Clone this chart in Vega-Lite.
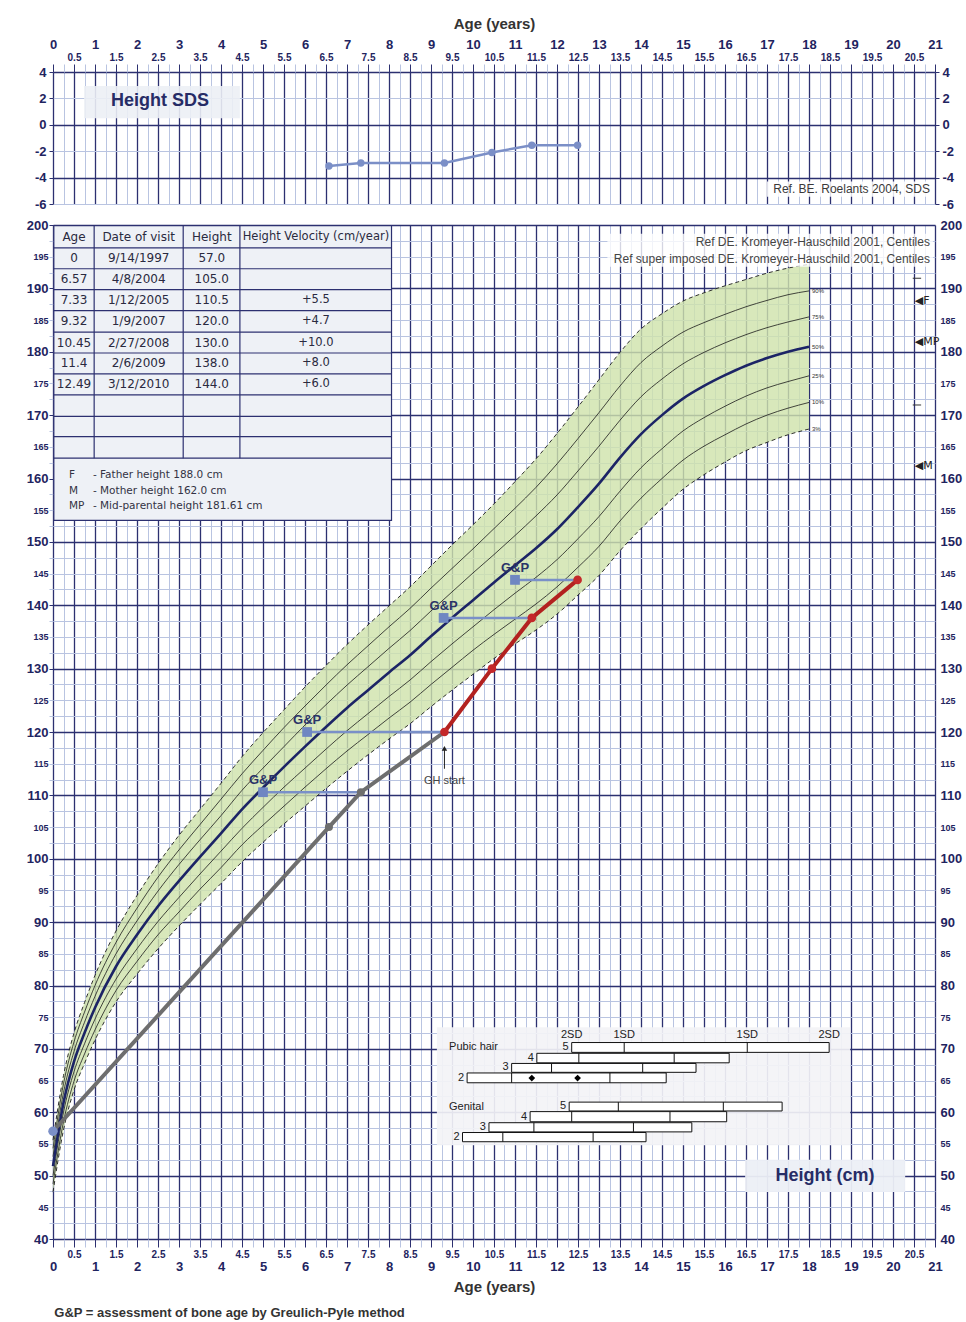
{
"$schema":"https://vega.github.io/schema/vega-lite/v6.json",
"background":"white",
"padding":{"left":26,"top":16,"right":4,"bottom":4},
"config":{"view":{"stroke":null},"font":"Liberation Sans"},
"spacing":8,
"title":{"text":"G&P = assessment of bone age by Greulich-Pyle method","orient":"bottom","anchor":"start","font":"Liberation Sans Narrow, Liberation Sans, sans-serif","fontSize":13,"fontWeight":"bold","color":"#333333","offset":13,"dx":28},
"datasets":{
"sds":[{"age":6.57,"sds":-3.12},{"age":7.33,"sds":-2.9},{"age":9.32,"sds":-2.9},{"age":10.45,"sds":-2.1},{"age":11.4,"sds":-1.55},{"age":12.49,"sds":-1.55}],
"cent":[
{"age":0,"P3":47.4,"P10":48.7,"P25":50.0,"P50":51.5,"P75":53.0,"P90":54.3,"P97":55.6},
{"age":0.25,"P3":57.2,"P10":58.5,"P25":60.0,"P50":61.5,"P75":63.1,"P90":64.5,"P97":65.8},
{"age":0.5,"P3":63.5,"P10":64.9,"P25":66.4,"P50":68.0,"P75":69.6,"P90":71.1,"P97":72.5},
{"age":0.75,"P3":67.7,"P10":69.2,"P25":70.8,"P50":72.5,"P75":74.2,"P90":75.8,"P97":77.3},
{"age":1,"P3":71.4,"P10":73.0,"P25":74.7,"P50":76.5,"P75":78.3,"P90":80.0,"P97":81.6},
{"age":1.5,"P3":77.4,"P10":79.2,"P25":81.0,"P50":83.0,"P75":85.0,"P90":86.8,"P97":88.6},
{"age":2,"P3":81.8,"P10":83.8,"P25":85.8,"P50":88.0,"P75":90.2,"P90":92.2,"P97":94.2},
{"age":2.5,"P3":85.8,"P10":88.0,"P25":90.1,"P50":92.5,"P75":94.9,"P90":97.1,"P97":99.2},
{"age":3,"P3":89.4,"P10":91.6,"P25":93.9,"P50":96.5,"P75":99.1,"P90":101.4,"P97":103.7},
{"age":3.5,"P3":92.8,"P10":95.2,"P25":97.6,"P50":100.3,"P75":103.0,"P90":105.4,"P97":107.8},
{"age":4,"P3":96.1,"P10":98.6,"P25":101.2,"P50":104.0,"P75":106.8,"P90":109.4,"P97":111.9},
{"age":4.5,"P3":99.5,"P10":102.2,"P25":104.8,"P50":107.8,"P75":110.8,"P90":113.4,"P97":116.1},
{"age":5,"P3":102.6,"P10":105.3,"P25":108.1,"P50":111.2,"P75":114.3,"P90":117.1,"P97":119.9},
{"age":5.5,"P3":105.5,"P10":108.3,"P25":111.3,"P50":114.5,"P75":117.7,"P90":120.7,"P97":123.5},
{"age":6,"P3":108.3,"P10":111.3,"P25":114.3,"P50":117.7,"P75":121.1,"P90":124.1,"P97":127.1},
{"age":6.5,"P3":111.1,"P10":114.2,"P25":117.3,"P50":120.8,"P75":124.3,"P90":127.4,"P97":130.5},
{"age":7,"P3":113.8,"P10":117.0,"P25":120.2,"P50":123.8,"P75":127.4,"P90":130.6,"P97":133.8},
{"age":7.5,"P3":116.4,"P10":119.6,"P25":122.9,"P50":126.6,"P75":130.3,"P90":133.6,"P97":136.9},
{"age":8,"P3":118.9,"P10":122.2,"P25":125.6,"P50":129.4,"P75":133.2,"P90":136.6,"P97":139.9},
{"age":8.5,"P3":121.3,"P10":124.7,"P25":128.2,"P50":132.1,"P75":136.0,"P90":139.5,"P97":142.9},
{"age":9,"P3":124.0,"P10":127.5,"P25":131.1,"P50":135.1,"P75":139.1,"P90":142.7,"P97":146.2},
{"age":9.5,"P3":126.6,"P10":130.2,"P25":133.9,"P50":138.0,"P75":142.1,"P90":145.8,"P97":149.5},
{"age":10,"P3":129.1,"P10":132.9,"P25":136.6,"P50":140.8,"P75":145.1,"P90":148.9,"P97":152.7},
{"age":10.5,"P3":131.6,"P10":135.4,"P25":139.3,"P50":143.6,"P75":148.0,"P90":152.1,"P97":156.0},
{"age":11,"P3":133.9,"P10":137.8,"P25":141.9,"P50":146.3,"P75":151.0,"P90":155.3,"P97":159.5},
{"age":11.5,"P3":136.1,"P10":140.2,"P25":144.4,"P50":149.0,"P75":154.1,"P90":158.6,"P97":163.1},
{"age":12,"P3":138.6,"P10":142.9,"P25":147.2,"P50":152.0,"P75":157.4,"P90":162.3,"P97":167.1},
{"age":12.5,"P3":141.6,"P10":146.0,"P25":150.5,"P50":155.5,"P75":161.2,"P90":166.3,"P97":171.3},
{"age":13,"P3":144.7,"P10":149.3,"P25":154.0,"P50":159.2,"P75":165.1,"P90":170.4,"P97":175.6},
{"age":13.5,"P3":148.6,"P10":153.3,"P25":158.0,"P50":163.3,"P75":169.2,"P90":174.6,"P97":179.9},
{"age":14,"P3":152.1,"P10":156.9,"P25":161.7,"P50":167.0,"P75":172.9,"P90":178.3,"P97":183.6},
{"age":14.5,"P3":155.3,"P10":160.0,"P25":164.7,"P50":170.0,"P75":175.7,"P90":180.9,"P97":186.0},
{"age":15,"P3":158.3,"P10":162.9,"P25":167.5,"P50":172.6,"P75":178.1,"P90":183.1,"P97":188.0},
{"age":15.5,"P3":160.6,"P10":165.1,"P25":169.6,"P50":174.6,"P75":179.9,"P90":184.6,"P97":189.3},
{"age":16,"P3":162.6,"P10":166.9,"P25":171.4,"P50":176.3,"P75":181.4,"P90":185.9,"P97":190.4},
{"age":16.5,"P3":164.4,"P10":168.6,"P25":173.0,"P50":177.8,"P75":182.7,"P90":187.1,"P97":191.4},
{"age":17,"P3":165.7,"P10":170.0,"P25":174.3,"P50":179.0,"P75":183.8,"P90":188.1,"P97":192.4},
{"age":17.5,"P3":166.9,"P10":171.1,"P25":175.3,"P50":180.0,"P75":184.7,"P90":189.0,"P97":193.2},
{"age":18,"P3":167.8,"P10":172.0,"P25":176.2,"P50":180.8,"P75":185.5,"P90":189.6,"P97":193.8}
],
"visits":[{"age":0,"h":57,"ph":"pre"},{"age":6.57,"h":105,"ph":"pre"},{"age":7.33,"h":110.5,"ph":"pre"},{"age":9.32,"h":120,"ph":"pre"},{"age":9.32,"h":120,"ph":"gh"},{"age":10.45,"h":130,"ph":"gh"},{"age":11.4,"h":138,"ph":"gh"},{"age":12.49,"h":144,"ph":"gh"}],
"bone":[{"age":7.33,"bone":5.0,"h":110.5,"label":"G&P"},{"age":9.32,"bone":6.05,"h":120,"label":"G&P"},{"age":11.4,"bone":9.3,"h":138,"label":"G&P"},{"age":12.49,"bone":11.0,"h":144,"label":"G&P"}],
"table":[{"y":198.15,"a":"Age","d":"Date of visit","ht":"Height","v":"Height Velocity (cm/year)"},{"y":194.75,"a":"0","d":"9/14/1997","ht":"57.0","v":""},{"y":191.45,"a":"6.57","d":"4/8/2004","ht":"105.0","v":""},{"y":188.15,"a":"7.33","d":"1/12/2005","ht":"110.5","v":"+5.5"},{"y":184.8,"a":"9.32","d":"1/9/2007","ht":"120.0","v":"+4.7"},{"y":181.45,"a":"10.45","d":"2/27/2008","ht":"130.0","v":"+10.0"},{"y":178.15,"a":"11.4","d":"2/6/2009","ht":"138.0","v":"+8.0"},{"y":174.85,"a":"12.49","d":"3/12/2010","ht":"144.0","v":"+6.0"}],
"notes":[{"y":160.5,"k":"F","t":"- Father height 188.0 cm"},{"y":158.1,"k":"M","t":"- Mother height 162.0 cm"},{"y":155.6,"k":"MP","t":"- Mid-parental height 181.61 cm"}],
"tanner":[{"g":"ph","s":"5","lo":12.35,"hi":18.48,"b":69.45,"t":71.0,"d1":13.6,"d2":16.53},{"g":"ph","s":"4","lo":11.52,"hi":16.1,"b":67.8,"t":69.3,"d1":12.52,"d2":14.79},{"g":"ph","s":"3","lo":10.92,"hi":15.31,"b":66.3,"t":67.7,"d1":11.87,"d2":14.04},{"g":"ph","s":"2","lo":9.86,"hi":14.6,"b":64.65,"t":66.2,"d1":10.92,"d2":13.26},{"g":"gen","s":"5","lo":12.29,"hi":17.36,"b":60.2,"t":61.6,"d1":13.46,"d2":15.96},{"g":"gen","s":"4","lo":11.36,"hi":16.04,"b":58.5,"t":60.1,"d1":12.35,"d2":14.69},{"g":"gen","s":"3","lo":10.38,"hi":15.21,"b":56.9,"t":58.35,"d1":11.45,"d2":13.82},{"g":"gen","s":"2","lo":9.75,"hi":14.12,"b":55.35,"t":56.8,"d1":10.71,"d2":12.86}]
},
"vconcat":[
{"width":882,"height":132,
"resolve":{"axis":{"x":"independent","y":"independent"}},
"layer":[
{"data":{"name":"sds"},"mark":{"type":"line","color":"#7b8fc7","strokeWidth":2.5},
"encoding":{
"x":{"field":"age","type":"quantitative","scale":{"domain":[0,21],"nice":false,"zero":false},
"axis":{"orient":"top","title":null,"labels":false,
"values":[0,0.25,0.5,0.75,1,1.25,1.5,1.75,2,2.25,2.5,2.75,3,3.25,3.5,3.75,4,4.25,4.5,4.75,5,5.25,5.5,5.75,6,6.25,6.5,6.75,7,7.25,7.5,7.75,8,8.25,8.5,8.75,9,9.25,9.5,9.75,10,10.25,10.5,10.75,11,11.25,11.5,11.75,12,12.25,12.5,12.75,13,13.25,13.5,13.75,14,14.25,14.5,14.75,15,15.25,15.5,15.75,16,16.25,16.5,16.75,17,17.25,17.5,17.75,18,18.25,18.5,18.75,19,19.25,19.5,19.75,20,20.25,20.5,20.75,21],
"grid":true,"gridColor":{"condition":{"test":"datum.value % 0.5 === 0","value":"#2c3070"},"value":"#b9c4e1"},
"gridWidth":{"condition":{"test":"datum.value % 0.5 === 0","value":1.3},"value":1},
"ticks":true,"tickSize":8,"tickColor":{"condition":{"test":"datum.value % 0.5 === 0","value":"#2c3070"},"value":"#b9c4e1"},"domain":false}},
"y":{"field":"sds","type":"quantitative","scale":{"domain":[-6,4],"nice":false,"zero":false},
"axis":{"orient":"left","title":null,"values":[-6,-4,-2,0,2,4],"labelExpr":"replace(datum.label, '−', '-')","labelFont":"Liberation Sans Narrow, Liberation Sans, sans-serif","labelFontWeight":"bold","labelFontSize":13,"labelColor":"#1f2460","labelPadding":3,"tickSize":4,"tickColor":"#2c3070","labelOverlap":false,"labelBound":false,"labelFlush":false,
"grid":true,"gridColor":{"condition":{"test":"datum.value % 4 === 0","value":"#2c3070"},"value":"#b9c4e1"},"gridWidth":{"condition":{"test":"datum.value % 4 === 0","value":1.3},"value":1},"domain":false}}}},
{"data":{"name":"sds"},"mark":{"type":"circle","color":"#7b8fc7","size":55,"opacity":1},
"encoding":{
"x":{"field":"age","type":"quantitative","axis":{"orient":"top","title":"Age (years)","titleFont":"Liberation Sans Narrow, Liberation Sans, sans-serif","titleFontSize":15,"titleFontWeight":"bold","titleColor":"#333333","titlePadding":7,
"values":[0,1,2,3,4,5,6,7,8,9,10,11,12,13,14,15,16,17,18,19,20,21],"format":"d",
"labelFont":"Liberation Sans Narrow, Liberation Sans, sans-serif","labelFontWeight":"bold","labelFontSize":13,"labelColor":"#1f2460","labelPadding":21,
"labelOverlap":false,"labelFlush":false,"labelBound":false,"ticks":false,"tickSize":0,"grid":false,"domain":false}},
"y":{"field":"sds","type":"quantitative","axis":{"orient":"right","title":null,"values":[-6,-4,-2,0,2,4],"labelExpr":"replace(datum.label, '−', '-')","labelFont":"Liberation Sans Narrow, Liberation Sans, sans-serif","labelFontWeight":"bold","labelFontSize":13,"labelColor":"#1f2460","labelPadding":3,"tickSize":4,"tickColor":"#2c3070","labelOverlap":false,"labelBound":false,"labelFlush":false,"grid":false,"domain":false}}}},
{"data":{"values":[{"label":"Height SDS"}]},"mark":{"type":"rect","fill":"#eceff5","opacity":0.9},
"encoding":{"x":{"datum":0.74,"type":"quantitative","axis":{"orient":"top","title":null,
"values":[0.5,1.5,2.5,3.5,4.5,5.5,6.5,7.5,8.5,9.5,10.5,11.5,12.5,13.5,14.5,15.5,16.5,17.5,18.5,19.5,20.5],"format":".1f",
"labelFont":"Liberation Sans Narrow, Liberation Sans, sans-serif","labelFontWeight":"bold","labelFontSize":10,"labelColor":"#1f2460","labelPadding":10,
"labelOverlap":false,"labelFlush":false,"labelBound":false,"ticks":false,"tickSize":0,"grid":false,"domain":false}},"x2":{"datum":4.45},"y":{"datum":2.94,"type":"quantitative","axis":null},"y2":{"datum":0.5}}},
{"data":{"values":[{"label":"Height SDS"}]},"mark":{"type":"text","fontSize":18,"fontWeight":"bold","color":"#262c66","align":"center","baseline":"middle"},
"encoding":{"x":{"datum":2.55,"type":"quantitative","axis":null},"y":{"datum":1.8,"type":"quantitative","axis":null},"text":{"field":"label"}}},
{"data":{"values":[{"label":"Ref. BE. Roelants 2004, SDS"}]},"mark":{"type":"rect","fill":"white","opacity":0.85},
"encoding":{"x":{"datum":17.0,"type":"quantitative","axis":null},"x2":{"datum":20.95},"y":{"datum":-4.3,"type":"quantitative","axis":null},"y2":{"datum":-5.45}}},
{"data":{"values":[{"label":"Ref. BE. Roelants 2004, SDS"}]},"mark":{"type":"text","fontSize":12,"color":"#3a3a3a","align":"right","baseline":"middle"},
"encoding":{"x":{"datum":20.88,"type":"quantitative","axis":null},"y":{"datum":-4.86,"type":"quantitative","axis":null},"text":{"field":"label"}}}
]},
{"width":882,"height":1014,
"resolve":{"axis":{"x":"independent","y":"independent"}},
"layer":[
{"data":{"name":"cent"},"mark":{"type":"area","color":"#d0e3ac","opacity":0.82,"interpolate":"monotone"},
"encoding":{
"x":{"field":"age","type":"quantitative","scale":{"domain":[0,21],"nice":false,"zero":false},
"axis":{"orient":"bottom","title":null,"labels":false,
"values":[0,0.25,0.5,0.75,1,1.25,1.5,1.75,2,2.25,2.5,2.75,3,3.25,3.5,3.75,4,4.25,4.5,4.75,5,5.25,5.5,5.75,6,6.25,6.5,6.75,7,7.25,7.5,7.75,8,8.25,8.5,8.75,9,9.25,9.5,9.75,10,10.25,10.5,10.75,11,11.25,11.5,11.75,12,12.25,12.5,12.75,13,13.25,13.5,13.75,14,14.25,14.5,14.75,15,15.25,15.5,15.75,16,16.25,16.5,16.75,17,17.25,17.5,17.75,18,18.25,18.5,18.75,19,19.25,19.5,19.75,20,20.25,20.5,20.75,21],
"grid":true,"gridColor":{"condition":{"test":"datum.value % 0.5 === 0","value":"#2c3070"},"value":"#b9c4e1"},
"gridWidth":{"condition":{"test":"datum.value % 0.5 === 0","value":1.3},"value":1},
"ticks":true,"tickSize":8,"tickColor":{"condition":{"test":"datum.value % 0.5 === 0","value":"#2c3070"},"value":"#b9c4e1"},"domain":false}},
"y":{"field":"P3","type":"quantitative","scale":{"domain":[40,200],"nice":false,"zero":false},
"axis":{"orient":"left","title":null,"labels":false,
"values":[40,42.5,45,47.5,50,52.5,55,57.5,60,62.5,65,67.5,70,72.5,75,77.5,80,82.5,85,87.5,90,92.5,95,97.5,100,102.5,105,107.5,110,112.5,115,117.5,120,122.5,125,127.5,130,132.5,135,137.5,140,142.5,145,147.5,150,152.5,155,157.5,160,162.5,165,167.5,170,172.5,175,177.5,180,182.5,185,187.5,190,192.5,195,197.5,200],
"ticks":true,"tickSize":4,"tickColor":{"condition":{"test":"datum.value % 10 === 0","value":"#2c3070"},"value":"#b9c4e1"},
"grid":true,"gridColor":{"condition":{"test":"datum.value % 10 === 0","value":"#2c3070"},"value":"#b9c4e1"},
"gridWidth":{"condition":{"test":"datum.value % 10 === 0","value":1.3},"value":1},"domain":false}},
"y2":{"field":"P97"}}},
{"data":{"name":"cent"},"transform":[{"fold":["P10","P25","P75","P90"],"as":["c","h"]}],
"mark":{"type":"line","color":"#1b1b1b","strokeWidth":0.8,"interpolate":"monotone"},
"encoding":{
"x":{"field":"age","type":"quantitative","axis":{"orient":"bottom","title":"Age (years)","titleFont":"Liberation Sans Narrow, Liberation Sans, sans-serif","titleFontSize":15,"titleFontWeight":"bold","titleColor":"#333333","titlePadding":6,
"values":[0,1,2,3,4,5,6,7,8,9,10,11,12,13,14,15,16,17,18,19,20,21],"format":"d",
"labelFont":"Liberation Sans Narrow, Liberation Sans, sans-serif","labelFontWeight":"bold","labelFontSize":13,"labelColor":"#1f2460","labelPadding":21,
"labelOverlap":false,"labelFlush":false,"labelBound":false,"ticks":false,"tickSize":0,"grid":false,"domain":false}},
"y":{"field":"h","type":"quantitative","axis":{"orient":"left","title":null,"values":[40,50,60,70,80,90,100,110,120,130,140,150,160,170,180,190,200],"format":"d",
"labelFont":"Liberation Sans Narrow, Liberation Sans, sans-serif","labelFontWeight":"bold","labelFontSize":13,"labelColor":"#1f2460","labelPadding":5,
"labelOverlap":false,"labelFlush":false,"labelBound":false,"ticks":false,"tickSize":0,"grid":false,"domain":false}},
"detail":{"field":"c"}}},
{"data":{"name":"cent"},"transform":[{"fold":["P3","P97"],"as":["c","h"]}],
"mark":{"type":"line","color":"#1b1b1b","strokeWidth":0.9,"strokeDash":[4,3],"interpolate":"monotone"},
"encoding":{
"x":{"field":"age","type":"quantitative","axis":{"orient":"bottom","title":null,
"values":[0.5,1.5,2.5,3.5,4.5,5.5,6.5,7.5,8.5,9.5,10.5,11.5,12.5,13.5,14.5,15.5,16.5,17.5,18.5,19.5,20.5],"format":".1f",
"labelFont":"Liberation Sans Narrow, Liberation Sans, sans-serif","labelFontWeight":"bold","labelFontSize":10,"labelColor":"#1f2460","labelPadding":10,
"labelOverlap":false,"labelFlush":false,"labelBound":false,"ticks":false,"tickSize":0,"grid":false,"domain":false}},
"y":{"field":"h","type":"quantitative","axis":{"orient":"left","title":null,"values":[45,55,65,75,85,95,105,115,125,135,145,155,165,175,185,195],"format":"d",
"labelFont":"Liberation Sans Narrow, Liberation Sans, sans-serif","labelFontWeight":"bold","labelFontSize":9,"labelColor":"#1f2460","labelPadding":5,
"labelOverlap":false,"labelFlush":false,"labelBound":false,"ticks":false,"tickSize":0,"grid":false,"domain":false}},
"detail":{"field":"c"}}},
{"data":{"name":"cent"},"mark":{"type":"line","color":"#1c2466","strokeWidth":2.6,"interpolate":"monotone"},
"encoding":{"x":{"field":"age","type":"quantitative","axis":null},
"y":{"field":"P50","type":"quantitative","axis":{"orient":"right","title":null,"values":[40,50,60,70,80,90,100,110,120,130,140,150,160,170,180,190,200],"format":"d",
"labelFont":"Liberation Sans Narrow, Liberation Sans, sans-serif","labelFontWeight":"bold","labelFontSize":13,"labelColor":"#1f2460","labelPadding":5,
"labelOverlap":false,"labelFlush":false,"labelBound":false,"ticks":false,"tickSize":0,"grid":false,"domain":false}}}},
{"data":{"values":[{"c":"90%","h":189.6},{"c":"75%","h":185.5},{"c":"50%","h":180.8},{"c":"25%","h":176.2},{"c":"10%","h":172.0},{"c":"3%","h":167.8}]},
"mark":{"type":"text","align":"left","baseline":"middle","dx":3,"fontSize":6,"color":"#333333"},
"encoding":{"x":{"datum":18,"type":"quantitative","axis":null},
"y":{"field":"h","type":"quantitative","axis":{"orient":"right","title":null,"values":[45,55,65,75,85,95,105,115,125,135,145,155,165,175,185,195],"format":"d",
"labelFont":"Liberation Sans Narrow, Liberation Sans, sans-serif","labelFontWeight":"bold","labelFontSize":9,"labelColor":"#1f2460","labelPadding":5,
"labelOverlap":false,"labelFlush":false,"labelBound":false,"ticks":false,"tickSize":0,"grid":false,"domain":false}},"text":{"field":"c"}}},
{"data":{"values":[{"w":"table"}]},"mark":{"type":"rect","fill":"#eef1f6","stroke":"#2c3070","strokeWidth":1.2},
"encoding":{"x":{"datum":0.02,"type":"quantitative","axis":null},"x2":{"datum":8.06},"y":{"datum":153.4,"type":"quantitative","axis":null},"y2":{"datum":199.9}}},
{"data":{"values":[{"h":196.4},{"h":193.1},{"h":189.8},{"h":186.5},{"h":183.1},{"h":179.8},{"h":176.5},{"h":173.2},{"h":169.8},{"h":166.6},{"h":163.2}]},
"mark":{"type":"rule","color":"#2c3070","strokeWidth":1.2},
"encoding":{"x":{"datum":0.02,"type":"quantitative","axis":null},"x2":{"datum":8.06},"y":{"field":"h","type":"quantitative","axis":null}}},
{"data":{"values":[{"a":0.98},{"a":3.10},{"a":4.45}]},
"mark":{"type":"rule","color":"#2c3070","strokeWidth":1.2},
"encoding":{"x":{"field":"a","type":"quantitative","axis":null},"y":{"datum":163.2,"type":"quantitative","axis":null},"y2":{"datum":199.9}}},
{"data":{"name":"table"},"mark":{"type":"text","font":"DejaVu Sans","fontSize":12,"color":"#2a2a40","align":"center","baseline":"middle"},
"encoding":{"x":{"datum":0.5,"type":"quantitative","axis":null},"y":{"field":"y","type":"quantitative","axis":null},"text":{"field":"a"}}},
{"data":{"name":"table"},"mark":{"type":"text","font":"DejaVu Sans","fontSize":12,"color":"#2a2a40","align":"center","baseline":"middle"},
"encoding":{"x":{"datum":2.04,"type":"quantitative","axis":null},"y":{"field":"y","type":"quantitative","axis":null},"text":{"field":"d"}}},
{"data":{"name":"table"},"mark":{"type":"text","font":"DejaVu Sans","fontSize":12,"color":"#2a2a40","align":"center","baseline":"middle"},
"encoding":{"x":{"datum":3.78,"type":"quantitative","axis":null},"y":{"field":"y","type":"quantitative","axis":null},"text":{"field":"ht"}}},
{"data":{"name":"table"},"mark":{"type":"text","font":"DejaVu Sans","fontSize":11.5,"color":"#2a2a40","align":"center","baseline":"middle"},
"encoding":{"x":{"datum":6.26,"type":"quantitative","axis":null},"y":{"field":"y","type":"quantitative","axis":null},"text":{"field":"v"}}},
{"data":{"name":"notes"},"mark":{"type":"text","font":"DejaVu Sans","fontSize":10.5,"color":"#333344","align":"left","baseline":"middle"},
"encoding":{"x":{"datum":0.38,"type":"quantitative","axis":null},"y":{"field":"y","type":"quantitative","axis":null},"text":{"field":"k"}}},
{"data":{"name":"notes"},"mark":{"type":"text","font":"DejaVu Sans","fontSize":10.5,"color":"#333344","align":"left","baseline":"middle"},
"encoding":{"x":{"datum":0.95,"type":"quantitative","axis":null},"y":{"field":"y","type":"quantitative","axis":null},"text":{"field":"t"}}},
{"data":{"values":[{"w":"ref"}]},"mark":{"type":"rect","fill":"white","opacity":0.8},
"encoding":{"x":{"datum":13.2,"type":"quantitative","axis":null},"x2":{"datum":20.95},"y":{"datum":193.4,"type":"quantitative","axis":null},"y2":{"datum":198.6}}},
{"data":{"values":[{"y":197.3,"t":"Ref  DE. Kromeyer-Hauschild 2001, Centiles"},{"y":194.6,"t":"Ref super imposed  DE. Kromeyer-Hauschild 2001, Centiles"}]},
"mark":{"type":"text","fontSize":12,"color":"#444444","align":"right","baseline":"middle"},
"encoding":{"x":{"datum":20.88,"type":"quantitative","axis":null},"y":{"field":"y","type":"quantitative","axis":null},"text":{"field":"t"}}},
{"data":{"values":[{"h":188.0,"t":"◀F"},{"h":181.61,"t":"◀MP"},{"h":162.0,"t":"◀M"}]},
"mark":{"type":"text","font":"DejaVu Sans","fontSize":11,"color":"#222222","align":"left","baseline":"middle"},
"encoding":{"x":{"datum":20.52,"type":"quantitative","axis":null},"y":{"field":"h","type":"quantitative","axis":null},"text":{"field":"t"}}},
{"data":{"values":[{"h":191.6},{"h":171.6}]},"mark":{"type":"rule","color":"#333333","strokeWidth":1},
"encoding":{"x":{"datum":20.47,"type":"quantitative","axis":null},"x2":{"datum":20.67},"y":{"field":"h","type":"quantitative","axis":null}}},
{"data":{"name":"visits"},"transform":[{"filter":"datum.ph === 'pre'"}],"mark":{"type":"line","color":"#6e6e6e","strokeWidth":4},
"encoding":{"x":{"field":"age","type":"quantitative","axis":null},"y":{"field":"h","type":"quantitative","axis":null}}},
{"data":{"name":"visits"},"transform":[{"filter":"datum.ph === 'gh'"}],"mark":{"type":"line","color":"#b3211f","strokeWidth":4},
"encoding":{"x":{"field":"age","type":"quantitative","axis":null},"y":{"field":"h","type":"quantitative","axis":null}}},
{"data":{"name":"bone"},"mark":{"type":"rule","color":"#7a90c8","strokeWidth":2.5},
"encoding":{"x":{"field":"bone","type":"quantitative","axis":null},"x2":{"field":"age"},"y":{"field":"h","type":"quantitative","axis":null}}},
{"data":{"name":"bone"},"mark":{"type":"square","color":"#6f87c2","size":95,"opacity":1},
"encoding":{"x":{"field":"bone","type":"quantitative","axis":null},"y":{"field":"h","type":"quantitative","axis":null}}},
{"data":{"name":"bone"},"mark":{"type":"text","fontSize":13,"fontWeight":"bold","color":"#2b3468","align":"center","baseline":"bottom","dy":-5},
"encoding":{"x":{"field":"bone","type":"quantitative","axis":null},"y":{"field":"h","type":"quantitative","axis":null},"text":{"field":"label"}}},
{"data":{"name":"visits"},"transform":[{"filter":"datum.age === 0"}],"mark":{"type":"circle","color":"#7b8fc7","size":90,"opacity":1},
"encoding":{"x":{"field":"age","type":"quantitative","axis":null},"y":{"field":"h","type":"quantitative","axis":null}}},
{"data":{"name":"visits"},"transform":[{"filter":"datum.ph === 'pre' && datum.age > 0 && datum.age < 9"}],"mark":{"type":"circle","color":"#6e6e6e","size":65,"opacity":1},
"encoding":{"x":{"field":"age","type":"quantitative","axis":null},"y":{"field":"h","type":"quantitative","axis":null}}},
{"data":{"name":"visits"},"transform":[{"filter":"datum.ph === 'gh'"}],"mark":{"type":"circle","color":"#c4282a","size":75,"opacity":1},
"encoding":{"x":{"field":"age","type":"quantitative","axis":null},"y":{"field":"h","type":"quantitative","axis":null}}},
{"data":{"values":[{"age":9.32,"label":"GH start"}]},"mark":{"type":"rule","color":"#222222","strokeWidth":1},
"encoding":{"x":{"field":"age","type":"quantitative","axis":null},"y":{"datum":114.2,"type":"quantitative","axis":null},"y2":{"datum":117.2}}},
{"data":{"values":[{"age":9.32,"label":"GH start"}]},"mark":{"type":"point","shape":"triangle-up","filled":true,"color":"#222222","size":30,"opacity":1},
"encoding":{"x":{"field":"age","type":"quantitative","axis":null},"y":{"datum":117.4,"type":"quantitative","axis":null}}},
{"data":{"values":[{"age":9.32,"label":"GH start"}]},"mark":{"type":"text","fontSize":11,"color":"#444444","align":"center","baseline":"middle"},
"encoding":{"x":{"field":"age","type":"quantitative","axis":null},"y":{"datum":112.2,"type":"quantitative","axis":null},"text":{"field":"label"}}},
{"data":{"values":[{"w":"tanner"}]},"mark":{"type":"rect","fill":"#f3f3f6","opacity":0.92},
"encoding":{"x":{"datum":9.14,"type":"quantitative","axis":null},"x2":{"datum":18.98},"y":{"datum":54.8,"type":"quantitative","axis":null},"y2":{"datum":73.4}}},
{"data":{"name":"tanner"},"mark":{"type":"rect","fill":"white","stroke":"#111111","strokeWidth":1},
"encoding":{"x":{"field":"lo","type":"quantitative","axis":null},"x2":{"field":"hi"},"y":{"field":"b","type":"quantitative","axis":null},"y2":{"field":"t"}}},
{"data":{"name":"tanner"},"transform":[{"fold":["d1","d2"],"as":["k","dv"]}],"mark":{"type":"rule","color":"#111111","strokeWidth":1},
"encoding":{"x":{"field":"dv","type":"quantitative","axis":null},"y":{"field":"b","type":"quantitative","axis":null},"y2":{"field":"t"}}},
{"data":{"name":"tanner"},"mark":{"type":"text","fontSize":11,"color":"#222222","align":"right","baseline":"bottom","dx":-3},
"encoding":{"x":{"field":"lo","type":"quantitative","axis":null},"y":{"field":"b","type":"quantitative","axis":null},"text":{"field":"s"}}},
{"data":{"values":[{"a":12.35,"t":"2SD"},{"a":13.6,"t":"1SD"},{"a":16.53,"t":"1SD"},{"a":18.48,"t":"2SD"}]},
"mark":{"type":"text","fontSize":11,"color":"#222222","align":"center","baseline":"middle"},
"encoding":{"x":{"field":"a","type":"quantitative","axis":null},"y":{"datum":72.2,"type":"quantitative","axis":null},"text":{"field":"t"}}},
{"data":{"values":[{"y":70.3,"t":"Pubic hair"},{"y":60.9,"t":"Genital"}]},
"mark":{"type":"text","fontSize":11,"color":"#222222","align":"left","baseline":"middle"},
"encoding":{"x":{"datum":9.43,"type":"quantitative","axis":null},"y":{"field":"y","type":"quantitative","axis":null},"text":{"field":"t"}}},
{"data":{"values":[{"age":11.4},{"age":12.49}]},"mark":{"type":"point","shape":"diamond","filled":true,"color":"#000000","size":45,"opacity":1},
"encoding":{"x":{"field":"age","type":"quantitative","axis":null},"y":{"datum":65.4,"type":"quantitative","axis":null}}},
{"data":{"values":[{"label":"Height (cm)"}]},"mark":{"type":"rect","fill":"#eceff5","opacity":0.95},
"encoding":{"x":{"datum":16.48,"type":"quantitative","axis":null},"x2":{"datum":20.29},"y":{"datum":47.4,"type":"quantitative","axis":null},"y2":{"datum":52.5}}},
{"data":{"values":[{"label":"Height (cm)"}]},"mark":{"type":"text","fontSize":18,"fontWeight":"bold","color":"#262c66","align":"center","baseline":"middle"},
"encoding":{"x":{"datum":18.38,"type":"quantitative","axis":null},"y":{"datum":50.0,"type":"quantitative","axis":null},"text":{"field":"label"}}}
]}
]
}
